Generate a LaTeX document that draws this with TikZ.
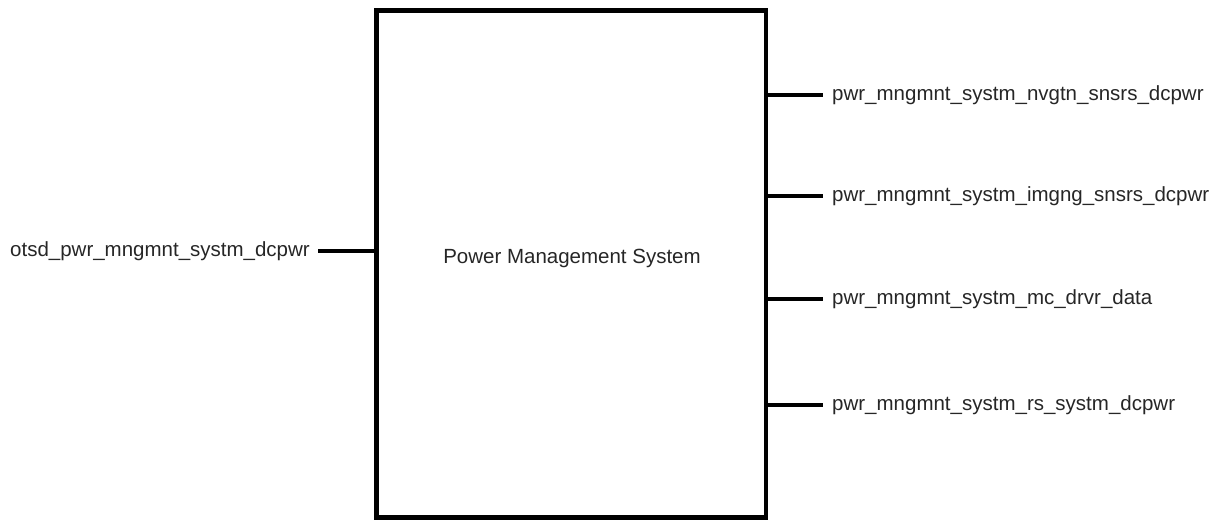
\documentclass[tikz,border=0pt]{standalone}
\usepackage{fontspec}
\setmainfont{Liberation Sans}
\begin{document}
\begin{tikzpicture}[x=1pt,y=-1pt,
  lbl/.style={inner ysep=0pt,font=\fontsize{20.5}{24}\selectfont,text=black!85},
  rlbl/.style={lbl,anchor=west,inner xsep=9pt},
  llbl/.style={lbl,anchor=east,inner xsep=8pt},
  conn/.style={line width=3.2pt},
  sysbox/.style={draw,line width=4.5pt,inner sep=0pt,minimum width=389.5pt,minimum height=507pt}]
\useasboundingbox (0,0) rectangle (1225,519);
\node[sysbox] (box) at (571.25,264) {};
\node[lbl] (title) at (572,258) {Power Management System};
\node[llbl] (in1) at (318,251) {otsd\_pwr\_mngmnt\_systm\_dcpwr};
\node[rlbl] (o1) at (823,95) {pwr\_mngmnt\_systm\_nvgtn\_snsrs\_dcpwr};
\node[rlbl] (o2) at (823,196) {pwr\_mngmnt\_systm\_imgng\_snsrs\_dcpwr};
\node[rlbl] (o3) at (823,299) {pwr\_mngmnt\_systm\_mc\_drvr\_data};
\node[rlbl] (o4) at (823,405) {pwr\_mngmnt\_systm\_rs\_systm\_dcpwr};
\draw[conn] (in1.east) -- (in1.east -| box.west);
\foreach \o in {o1,o2,o3,o4}
  \draw[conn] (\o.west -| box.east) -- (\o.west);
\end{tikzpicture}
\end{document}
